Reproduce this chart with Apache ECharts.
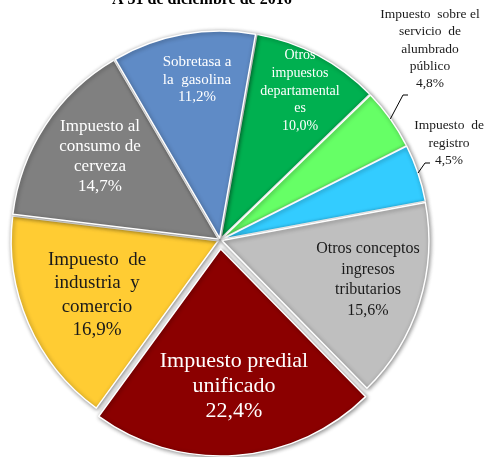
<!DOCTYPE html>
<html>
<head>
<meta charset="utf-8">
<script src="https://cdn.jsdelivr.net/npm/echarts@6/dist/echarts.min.js"></script>
<style>
  html, body { margin: 0; padding: 0; background: #fff; }
  #chart { width: 487px; height: 457px; }
</style>
</head>
<body>
<div id="chart"></div>
<script>
// Tax revenue composition, clockwise from 12 o'clock
const categories = [
  'Otros\nimpuestos\ndepartamental\nes',
  'Impuesto  sobre el\nservicio  de\nalumbrado\npúblico',
  'Impuesto  de\nregistro',
  'Otros conceptos\ningresos\ntributarios',
  'Impuesto predial\nunificado',
  'Impuesto  de\nindustria  y\ncomercio',
  'Impuesto al\nconsumo de\ncerveza',
  'Sobretasa a\nla  gasolina'
];
const shares = [10.0, 4.8, 4.5, 15.6, 22.4, 16.9, 14.7, 11.2];
const titleText = 'A 31 de diciembre de 2016';

// Slice fills and label styling
const colors = ['#00B050', '#66FF66', '#33CCFF', '#BFBFBF', '#8B0000', '#FFCC33', '#808080', '#5F8BC6'];
const labelColors = ['#ffffff', '#1a1a1a', '#1a1a1a', '#1a1a1a', '#ffffff', '#1a1a1a', '#ffffff', '#ffffff'];
const labelSizes = [14, 13.5, 13.5, 16, 22, 19, 17, 15];
const labelLines = [17.7, 17.2, 17.5, 20.5, 25, 23.5, 20, 17.5];
const labelCenters = [[300, 91], [430, 49], [449, 143], [368, 280], [234, 386], [97, 295], [100, 157], [197, 80]];
const leaderEnds = { 1: [[403, 95], [408, 95]], 2: [[425, 163], [430, 163]] };

// Geometry of the pie
const CX = 220, CY = 240, R = 207;
const START = 80;               // ECharts startAngle (degrees, counter-clockwise from 3 o'clock)
const OFFSET = 2, BIG = 4;       // explode distances; slice 4 (predial) pulled out further
const BIG_OFFSET = 9;

const fmt = v => v.toFixed(1).replace('.', ',') + '%';
const FONT = '"Liberation Serif", "Times New Roman", serif';
const total = shares.reduce((a, b) => a + b, 0);

const chart = echarts.init(document.getElementById('chart'), null, { renderer: 'canvas' });

const clear = 'rgba(0,0,0,0)';
function sliceData(keep) {
  return categories.map((name, i) => {
    const on = keep(i);
    return {
      name: name,
      value: shares[i],
      selected: true,
      itemStyle: on ? { color: colors[i] } : { color: clear, borderColor: clear, shadowColor: clear }
    };
  });
}

function pieSeries(offset, keep) {
  return {
    type: 'pie',
    center: [CX, CY],
    radius: [0, R],
    startAngle: START,
    clockwise: true,
    selectedMode: 'multiple',
    selectedOffset: offset,
    avoidLabelOverlap: false,
    emphasis: { disabled: true },
    label: { show: false },
    labelLine: { show: false },
    itemStyle: {
      borderColor: '#ffffff',
      borderWidth: 1.5,
      shadowBlur: 4,
      shadowColor: 'rgba(0,0,0,0.45)',
      shadowOffsetX: 1,
      shadowOffsetY: 1
    },
    data: sliceData(keep)
  };
}

// Label text blocks and leader lines
const graphics = [{
  type: 'text',
  x: 112,
  y: -8,
  style: { text: titleText, font: 'bold 16px ' + FONT, fill: '#000' }
}];
let cum = 0;
shares.forEach((v, i) => {
  const midDeg = (90 - START) + (cum + v / 2) / total * 360;   // clockwise from 12 o'clock
  cum += v;
  graphics.push({
    type: 'text',
    x: labelCenters[i][0],
    y: labelCenters[i][1],
    z: 10,
    style: {
      text: categories[i] + '\n' + fmt(v),
      font: labelSizes[i] + 'px ' + FONT,
      lineHeight: labelLines[i],
      fill: labelColors[i],
      align: 'center',
      verticalAlign: 'middle'
    }
  });
  if (leaderEnds[i]) {
    const a = midDeg * Math.PI / 180;
    const rr = R + (i === BIG ? BIG_OFFSET : OFFSET);
    const p0 = [CX + rr * Math.sin(a), CY - rr * Math.cos(a)];
    graphics.push({
      type: 'polyline',
      z: 10,
      shape: { points: [p0, leaderEnds[i][0], leaderEnds[i][1]] },
      style: { stroke: '#000', lineWidth: 1, fill: null }
    });
  }
});

chart.setOption({
  animation: false,
  backgroundColor: '#ffffff',
  series: [
    pieSeries(OFFSET, i => i !== BIG),
    pieSeries(BIG_OFFSET, i => i === BIG)
  ],
  graphic: graphics
});
</script>
</body>
</html>
